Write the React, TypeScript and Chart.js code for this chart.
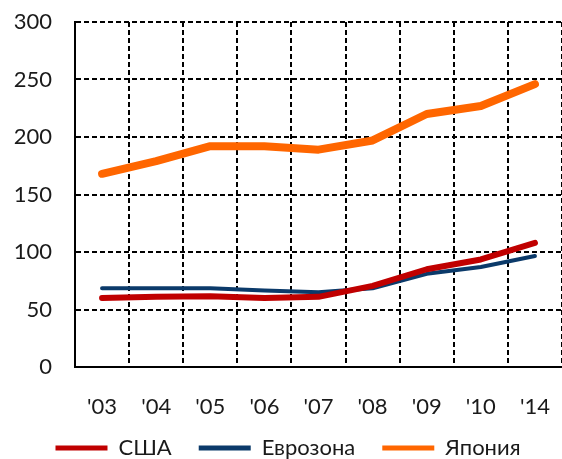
import React, { useEffect, useRef } from "react";
import { Chart, registerables } from "chart.js";

Chart.register(...registerables);

const categories = ["'03", "'04", "'05", "'06", "'07", "'08", "'09", "'10", "'14"];
const usa = [60, 61, 61.5, 60, 61, 70.5, 85, 93.5, 108];
const euro = [68.5, 68.5, 68.5, 66.5, 65, 68.5, 81, 87, 96.5];
const japan = [168, 179, 192, 192, 189, 197, 220, 227, 246];
const seriesNames = ["США", "Еврозона", "Япония"];
const seriesColors = ["#C00000", "#0B3A6A", "#FF6600"];
const seriesWidths = [6, 4, 8];

const FONT = "Lato, 'Open Sans', 'DejaVu Sans', sans-serif";

export default function App() {
  const ref = useRef<HTMLCanvasElement | null>(null);

  useEffect(() => {
    document.body.style.margin = "0";
    const canvas = ref.current;
    if (!canvas) return;
    const values = [usa, euro, japan];
    const chart = new Chart(canvas, {
      type: "line",
      data: {
        labels: categories,
        datasets: values.map((v, i) => ({
          label: seriesNames[i],
          data: v,
          borderColor: seriesColors[i],
          backgroundColor: seriesColors[i],
          borderWidth: seriesWidths[i],
          pointRadius: 0,
          tension: 0,
          borderCapStyle: "round" as const,
          borderJoinStyle: "round" as const,
          fill: false,
        })),
      },
      options: {
        responsive: false,
        animation: false,
        layout: { padding: 0 },
        plugins: {
          tooltip: { enabled: false },
          legend: {
            position: "bottom",
            maxHeight: 38,
            labels: {
              boxWidth: 52,
              boxHeight: 5,
              padding: 27,
              color: "#1a1a1a",
              font: { family: FONT, size: 22 },
              generateLabels: (c: any) =>
                c.data.datasets.map((d: any, i: number) => ({
                  text: d.label,
                  fillStyle: d.borderColor,
                  strokeStyle: d.borderColor,
                  lineWidth: 0,
                  hidden: false,
                  datasetIndex: i,
                  fontColor: "#1a1a1a",
                })),
            },
          },
        },
        scales: {
          x: {
            offset: true,
            afterFit: (s: any) => {
              s.height = 54;
              s.paddingLeft = 0;
              s.paddingRight = 0;
            },
            grid: {
              offset: true,
              color: "#000",
              lineWidth: 2,
              drawTicks: false,
            },
            border: { display: true, color: "#000", width: 2, dash: [5, 3] },
            ticks: {
              padding: 27,
              color: "#1a1a1a",
              font: { family: FONT, size: 22 },
              maxRotation: 0,
              autoSkip: false,
            },
          },
          y: {
            min: 0,
            max: 300,
            afterFit: (s: any) => {
              s.width = 75;
              s.paddingTop = 22;
              s.paddingBottom = 0;
            },
            grid: {
              color: "#000",
              lineWidth: 2,
              drawTicks: false,
            },
            border: { display: true, color: "#000", width: 2, dash: [5, 3] },
            ticks: {
              stepSize: 50,
              padding: 23,
              color: "#1a1a1a",
              font: { family: FONT, size: 22 },
            },
          },
        },
      },
      plugins: [
        {
          id: "legendShift",
          afterLayout: (c: any) => {
            const lg = c.legend;
            if (!lg) return;
            lg.top = 448 - 38;
            lg.bottom = lg.top + 59;
            lg.height = 59;
            lg.left += 7;
            lg.right += 7;
          },
        },
      ],
    });
    return () => chart.destroy();
  }, []);

  return (
    <div style={{ width: 562, height: 459 }}>
      <canvas ref={ref} width={562} height={459} />
    </div>
  );
}
